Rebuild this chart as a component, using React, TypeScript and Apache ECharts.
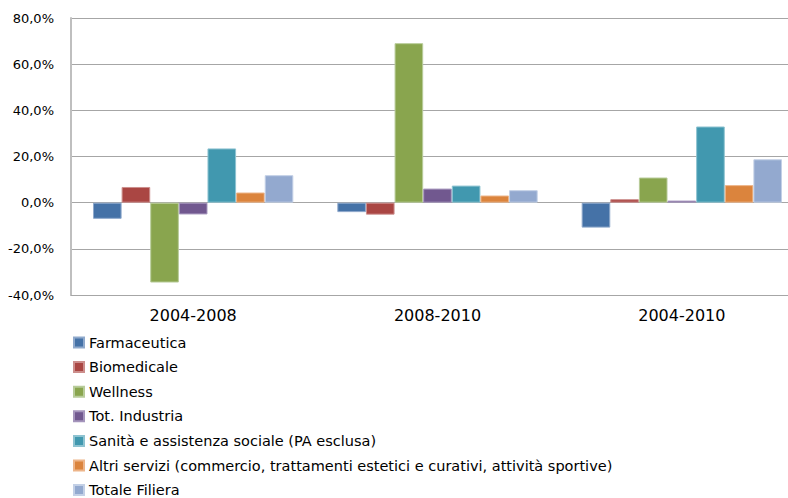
import React, { useEffect, useRef } from "react";
import * as echarts from "echarts";

const categories = ["2004-2008", "2008-2010", "2004-2010"];
const seriesNames = [
  "Farmaceutica",
  "Biomedicale",
  "Wellness",
  "Tot. Industria",
  "Sanità e assistenza sociale (PA esclusa)",
  "Altri servizi (commercio, trattamenti estetici e curativi, attività sportive)",
  "Totale Filiera",
];
const farmaceutica = [-7.0, -4.1, -10.8];
const biomedicale = [6.8, -5.2, 1.5];
const wellness = [-34.6, 69.1, 10.9];
const totIndustria = [-5.1, 6.1, 0.9];
const sanita = [23.5, 7.4, 33.0];
const altriServizi = [4.4, 3.1, 7.6];
const totaleFiliera = [11.9, 5.4, 18.8];
const colors = ["#4572A7", "#AA4643", "#89A54E", "#71588F", "#4198AF", "#DB843D", "#93A9CF"];
const borders = ["#8FA9CC", "#CC8E8C", "#B8CC9A", "#A595BC", "#8EC3D1", "#EDB58A", "#C3D0E6"];

const allValues = [farmaceutica, biomedicale, wellness, totIndustria, sanita, altriServizi, totaleFiliera];

export default function App() {
  const ref = useRef<HTMLDivElement>(null);
  useEffect(() => {
    if (!ref.current) return;
    const chart = echarts.init(ref.current, null, { renderer: "svg" });
    const font = "'DejaVu Sans', sans-serif";
    chart.setOption({
      animation: false,
      textStyle: { fontFamily: font },
      grid: { left: 71, right: 2, top: 18, bottom: 203, containLabel: false },
      legend: seriesNames.map((name, i) => ({
        orient: "vertical",
        left: 68,
        top: 330 + i * 24.6,
        itemWidth: 10,
        itemHeight: 10,
        icon: "rect",
        textStyle: { fontSize: 14.5, color: "#000", fontFamily: font },
        data: [name],
      })),
      xAxis: {
        type: "category",
        data: categories,
        position: "bottom",
        axisLine: { onZero: false, lineStyle: { color: "#A6A6A6", width: 1 } },
        axisTick: { show: false },
        axisLabel: { fontSize: 16, color: "#000", margin: 12, fontFamily: font },
      },
      yAxis: {
        type: "value",
        min: -40,
        max: 80,
        interval: 20,
        axisLine: { show: true, lineStyle: { color: "#BFBFBF", width: 2 } },
        axisTick: { show: false },
        splitLine: { lineStyle: { color: "#A6A6A6", width: 1 } },
        axisLabel: {
          fontSize: 13,
          color: "#000",
          margin: 17,
          fontFamily: font,
          formatter: (v: number) => v.toFixed(1).replace(".", ",") + "%",
        },
      },
      series: seriesNames.map((name, i) => ({
        name,
        type: "bar",
        data: allValues[i],
        barGap: "0%",
        barCategoryGap: "18%",
        itemStyle: { color: colors[i], borderColor: borders[i], borderWidth: 1 },
      })),
    });
    return () => chart.dispose();
  }, []);
  return (
    <div
      style={{
        position: "absolute",
        left: 0,
        top: 0,
        width: 788,
        height: 498,
        overflow: "hidden",
      }}
    >
      <div ref={ref} style={{ width: 806, height: 498 }} />
    </div>
  );
}
